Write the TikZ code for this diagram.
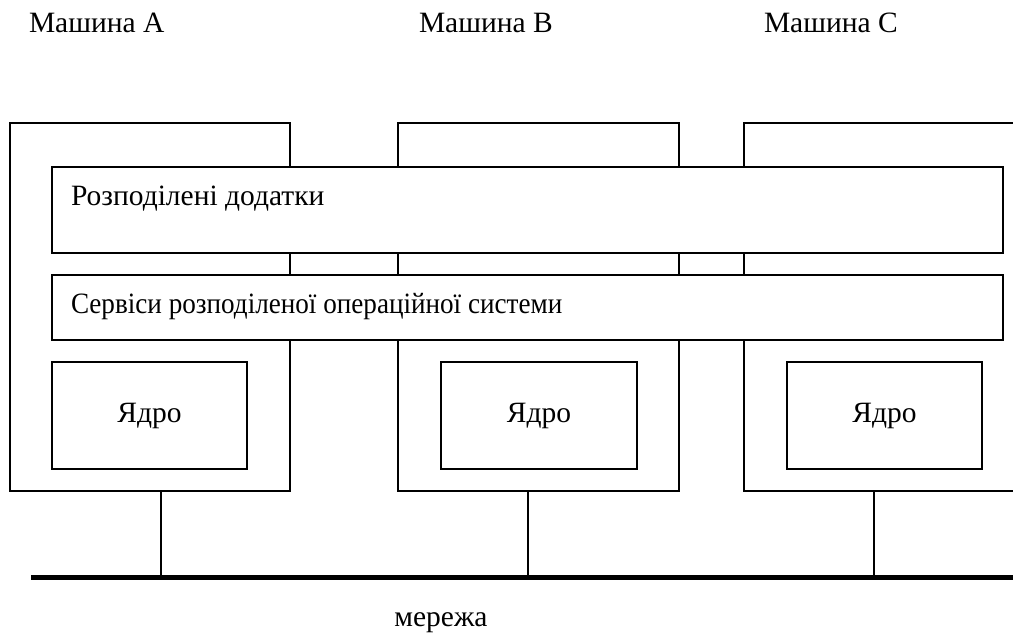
\documentclass[tikz,border=0pt]{standalone}
\usepackage{fontspec}
\usepackage{graphicx}
\setmainfont{Liberation Serif}
\begin{document}
\begin{tikzpicture}[x=1pt,y=-1pt,
  every node/.style={inner sep=0pt,outer sep=0pt},
  machine/.style={draw,line width=1.6pt,anchor=north west},
  layer/.style={draw,fill=white,line width=1.6pt,anchor=north west},
  kernel/.style={draw,line width=1.6pt,anchor=north west},
  txt/.style={font=\fontsize{29.5}{35}\selectfont},
  tap/.style={line width=1.3pt},
  bus/.style={line width=5pt}]
\useasboundingbox (0,0) rectangle (1013,643);
\clip (0,0) rectangle (1013,643);

% machine headings
\node[txt,anchor=base west] (ta) at (29,32) {Машина A};
\node[txt,anchor=base west] (tb) at (419,32) {Машина B};
\node[txt,anchor=base west] (tc) at (764,32) {Машина C};

% machines
\node[machine,minimum width=280pt,minimum height=368pt] (ma) at (10,123) {};
\node[machine,minimum width=281pt,minimum height=368pt] (mb) at (398,123) {};
\node[machine,minimum width=290pt,minimum height=368pt] (mc) at (744,123) {};

% shared layers across all machines
\node[layer,minimum width=951pt,minimum height=86pt] (apps) at (52,167) {};
\node[txt,anchor=base west] (appsT) at (71,205) {Розподілені додатки};
\node[layer,minimum width=951pt,minimum height=65pt] (svc) at (52,275) {};
\node[txt,anchor=base west] (svcT) at (71,313) {\scalebox{0.92}[1]{Сервіси розподіленої операційної системи}};

% kernels
\node[kernel,minimum width=195pt,minimum height=107pt] (ka) at (52,362) {};
\node[kernel,minimum width=196pt,minimum height=107pt] (kb) at (441,362) {};
\node[kernel,minimum width=195pt,minimum height=107pt] (kc) at (787,362) {};
\node[txt] (kaT) at (ka.center) {Ядро};
\node[txt] (kbT) at (kb.center) {Ядро};
\node[txt] (kcT) at (kc.center) {Ядро};

% network bus and taps
\coordinate (busL) at (31,577);
\coordinate (busR) at (1013,577);
\coordinate (tapA) at (161,577);
\coordinate (tapB) at (528,577);
\coordinate (tapC) at (874,577);
\draw[tap] (tapA |- ma.south) -- (tapA);
\draw[tap] (tapB |- mb.south) -- (tapB);
\draw[tap] (tapC |- mc.south) -- (tapC);
\draw[bus] (busL) -- (busR);
\node[txt,anchor=base] (net) at (441,626) {мережа};
\end{tikzpicture}
\end{document}
